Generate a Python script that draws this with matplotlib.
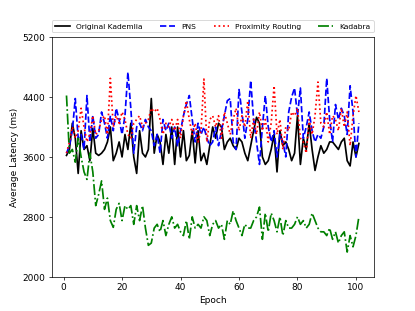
import numpy as np
import matplotlib
matplotlib.use('Agg')
import matplotlib.pyplot as plt

epochs = np.arange(1, 102)

# Average latency (ms) per epoch
original_kademlia = [
    3620, 3700, 4050, 3850, 3380, 3950, 3700, 3750, 3550, 3980,
    3650, 3620, 3650, 3700, 3800, 4000, 3550, 3650, 3800, 3600,
    3900, 3700, 4050, 3600, 3380, 3950, 3650, 3600, 3700, 4380,
    3650, 3900, 3800, 3500, 3900, 3650, 4000, 3500, 4000, 3600,
    3950, 3550, 3620, 3950, 3520, 3950, 3550, 3650, 3500, 3750,
    4000, 3850, 4050, 4000, 3700, 3800, 3850, 3750, 3700, 3850,
    3800, 3650, 3550, 3750, 3950, 4130, 4050, 3600, 3500, 3550,
    3700, 3900, 3400, 3950, 3750, 3800, 3700, 3550, 3650, 4150,
    3500, 3850, 3700, 4050, 3700, 3420, 3600, 3750, 3650, 3700,
    3800, 3800, 3750, 3700, 3800, 3850, 3550, 3480, 3800, 3600,
    3780,
]
pns = [
    3650, 3750, 3950, 4380, 3850, 3900, 3700, 4420, 3800, 4150,
    3850, 3900, 4200, 4050, 3850, 4150, 3950, 4250, 4100, 3900,
    4150, 4730, 4250, 3650, 4000, 4050, 3950, 4100, 4000, 3950,
    3750, 3900, 3650, 4100, 3950, 4050, 3850, 4000, 3750, 3950,
    4150, 4300, 4420, 4100, 3800, 4050, 3900, 4000, 3850, 3750,
    3800, 4000, 3750, 3950, 4150, 4350, 4380, 3800, 3700, 4500,
    4200, 3850, 4100, 4620, 4100, 3800, 3500, 4000, 4420, 4000,
    3800, 3950, 3600, 3900, 3800, 3600, 4200, 4400, 4520, 4150,
    4520, 3850, 4000, 4200, 3950, 3800, 3900, 3850, 4000, 4650,
    4100, 3800, 4300, 4100, 4250, 4150, 3900, 4550, 4200, 3600,
    4050,
]
proximity_routing = [
    3650, 3800, 4000, 3850, 3950, 4250, 4000, 3800, 3900, 4150,
    3900, 3950, 4100, 4150, 3900, 4650, 4000, 4150, 4050, 4200,
    4100, 3900, 3850, 4050, 4100, 4150, 4000, 4050, 4100, 4250,
    4200, 4250, 4100, 3900, 4050, 4000, 4100, 3950, 4100, 3850,
    4150, 4350, 4100, 3900, 4050, 3800, 3950, 4640, 3800, 4100,
    4150, 4000, 4150, 3850, 4200, 4050, 3900, 4100, 4250, 3950,
    4150, 4000, 4350, 3850, 4100, 3900, 4200, 3950, 4100, 3800,
    4050, 4550, 3900, 4100, 3700, 4000, 3950, 4200, 4150, 4250,
    3850, 3800, 3650, 4100, 3900, 4150, 4600, 4050, 4000, 4200,
    3900, 4150, 4100, 3950, 4250, 4000, 4200, 3750, 4150, 4420,
    4200,
]
kadabra = [
    4420, 3650, 3700, 3530, 3850, 3600, 3400, 3300, 3650, 3400,
    2950, 3100, 3280, 2900, 3050, 2750, 2660, 2900, 2980, 2750,
    2950, 2900, 2950, 2700, 2950, 2750, 2950, 2650, 2420, 2450,
    2650, 2700, 2600, 2750, 2550, 2700, 2800, 2650, 2700, 2600,
    2550, 2750, 2500, 2800, 2650, 2700, 2650, 2800, 2750, 2550,
    2700, 2750, 2650, 2700, 2500, 2750, 2700, 2880, 2750, 2650,
    2550, 2700, 2650, 2650, 2750, 2800, 2930, 2500, 2850, 2600,
    2850, 2750, 2600, 2800, 2550, 2750, 2650, 2650, 2700, 2800,
    2700, 2750, 2650, 2700, 2850, 2750, 2650, 2600, 2600, 2550,
    2650, 2500, 2600, 2450, 2550, 2600, 2330, 2550, 2400, 2550,
    2800,
]

fig, ax = plt.subplots(figsize=(6.4, 4.8), dpi=415 / 6.4)

lw = 1.9
ax.plot(epochs, original_kademlia, 'k-', lw=lw, label='Original Kademlia')
ax.plot(epochs, pns, 'b--', lw=lw, label='PNS')
ax.plot(epochs, proximity_routing, 'r:', lw=lw, label='Proximity Routing')
ax.plot(epochs, kadabra, 'g-.', lw=lw, label='Kadabra')

ax.set_ylim(2000, 5200)
ax.set_yticks([2000, 2800, 3600, 4400, 5200])
ax.set_xticks([0, 20, 40, 60, 80, 100])
ax.set_xlabel('Epoch')
ax.set_ylabel('Average Latency (ms)')

ax.legend(bbox_to_anchor=(0., 1.02, 1., .102), loc='lower left', ncol=4,
          mode='expand', borderaxespad=0., fontsize='small')

plt.savefig('out.png')
